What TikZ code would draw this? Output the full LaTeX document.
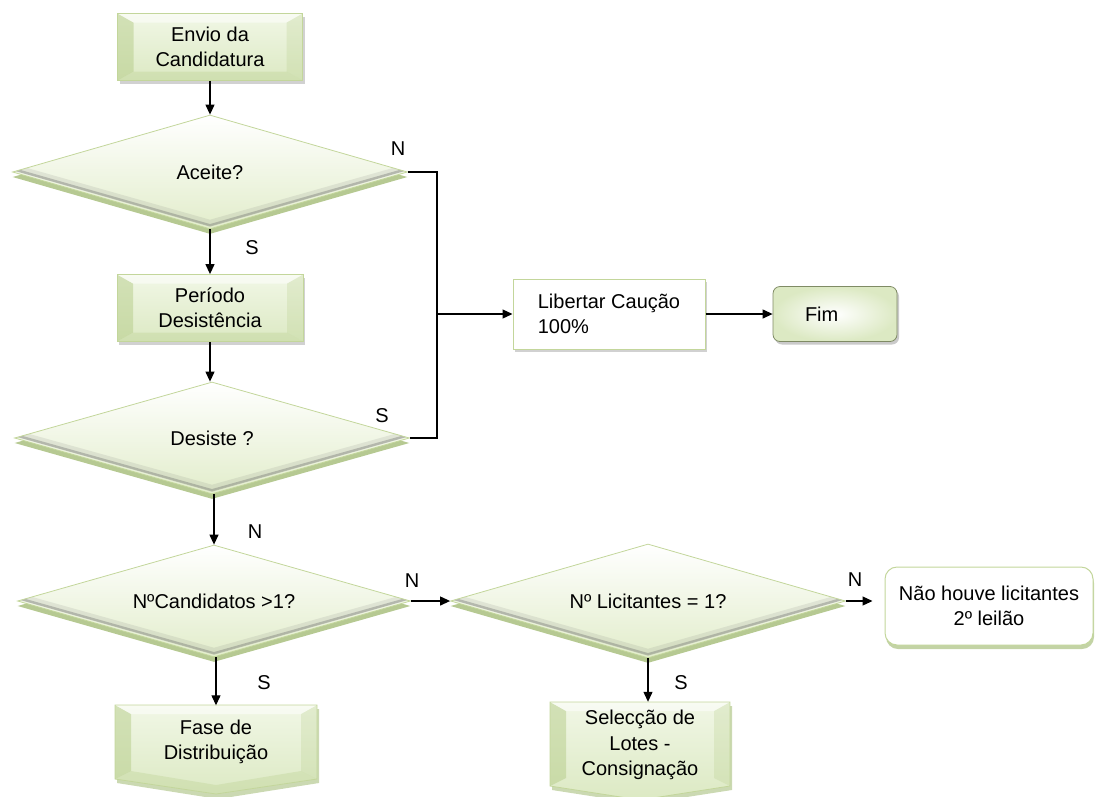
\documentclass[tikz,border=0pt]{standalone}
\usepackage{fontspec}
\setmainfont{Liberation Sans}
\usetikzlibrary{shapes.geometric,shadows,arrows.meta,calc}
\definecolor{gborder}{HTML}{C3D69B}
\definecolor{glight}{HTML}{F1F7E6}
\definecolor{gmid}{HTML}{DCE9C3}
\definecolor{gdark}{HTML}{B5CC88}
\definecolor{gshadow}{HTML}{A9C07F}
\definecolor{dialow}{HTML}{E2EDCB}
\tikzset{
  txt/.style={font=\fontsize{20}{25}\selectfont, align=center, inner sep=0pt, text=black},
  lab/.style={font=\fontsize{20}{24}\selectfont, inner sep=0pt},
  conn/.style={draw=black, line width=1.2pt, -{Triangle[length=10pt,width=9pt]}},
  plainline/.style={draw=black, line width=1.2pt},
  bevelbox/.style={txt, rectangle, draw=gborder, line width=0.8pt,
    top color=glight, bottom color=gmid,
    drop shadow={shadow xshift=2pt, shadow yshift=-3pt, opacity=.3, fill=black!60},
    path picture={
      \fill[gdark, opacity=.5] (path picture bounding box.north west)
        -- ([xshift=16pt,yshift=-9pt]path picture bounding box.north west)
        -- ([xshift=16pt,yshift=9pt]path picture bounding box.south west)
        -- (path picture bounding box.south west) -- cycle;
      \fill[gdark, opacity=.25] (path picture bounding box.north east)
        -- ([xshift=-16pt,yshift=-9pt]path picture bounding box.north east)
        -- ([xshift=-16pt,yshift=9pt]path picture bounding box.south east)
        -- (path picture bounding box.south east) -- cycle;
      \fill[gdark, opacity=.3] (path picture bounding box.south west)
        -- ([xshift=16pt,yshift=9pt]path picture bounding box.south west)
        -- ([xshift=-16pt,yshift=9pt]path picture bounding box.south east)
        -- (path picture bounding box.south east) -- cycle;
      \fill[white, opacity=.5] (path picture bounding box.north west)
        -- ([xshift=16pt,yshift=-9pt]path picture bounding box.north west)
        -- ([xshift=-16pt,yshift=-9pt]path picture bounding box.north east)
        -- (path picture bounding box.north east) -- cycle;
    }},
  dia/.style={txt, diamond, aspect=3.5, draw=gborder, line width=0.8pt,
    top color=white, bottom color=dialow,
    drop shadow={shadow xshift=0pt, shadow yshift=-5pt, opacity=.85, fill=gshadow},
    path picture={
      \draw[black!60, line width=6pt, opacity=.12]
        ([yshift=5pt]path picture bounding box.west)
        -- ([yshift=6pt]path picture bounding box.south)
        -- ([yshift=5pt]path picture bounding box.east);
      \draw[black!60, line width=2.5pt, opacity=.35]
        ([yshift=3pt]path picture bounding box.west)
        -- ([yshift=3.5pt]path picture bounding box.south)
        -- ([yshift=3pt]path picture bounding box.east);
    }},
  plainbox/.style={txt, rectangle, draw=gborder, line width=1pt, fill=white,
    drop shadow={shadow xshift=2pt, shadow yshift=-3pt, opacity=.3, fill=black!60}},
  fimbox/.style={txt, rectangle, rounded corners=7pt, draw=black!35!gborder, line width=0.8pt,
    inner color=white, outer color=gmid,
    drop shadow={shadow xshift=2pt, shadow yshift=-3pt, opacity=.35, fill=black!60}},
  roundbox/.style={txt, rectangle, rounded corners=12pt, draw=gborder, line width=1pt, fill=white,
    drop shadow={shadow xshift=1pt, shadow yshift=-4pt, opacity=.7, fill=gshadow}},
  penttext/.style={txt, rectangle}
}
\begin{document}
\begin{tikzpicture}[x=1pt,y=-1pt]
\useasboundingbox (0,0) rectangle (1095,796);

% pentagon-shaped boxes (drawn directly)
\fill[gshadow, opacity=.6] (117,709) -- (319,709) -- (319,783) -- (218,799) -- (117,783) -- cycle;
\begin{scope}
  \clip (115,705) -- (317,705) -- (317,779) -- (216,794) -- (115,779) -- cycle;
  \shade[top color=glight, bottom color=gmid] (115,705) rectangle (317,796);
  \fill[gdark, opacity=.5] (115,705) -- (131,714) -- (131,771) -- (115,779) -- cycle;
  \fill[gdark, opacity=.25] (317,705) -- (301,714) -- (301,771) -- (317,779) -- cycle;
  \fill[gdark, opacity=.3] (131,771) -- (216,785) -- (301,771) -- (317,779) -- (216,794) -- (115,779) -- cycle;
  \fill[white, opacity=.5] (115,705) -- (131,714) -- (301,714) -- (317,705) -- cycle;
\end{scope}
\draw[gborder, line width=.8pt] (115,705) -- (317,705) -- (317,779) -- (216,794) -- (115,779) -- cycle;

\fill[gshadow, opacity=.6] (552,706) -- (732,706) -- (732,790) -- (642,804) -- (552,790) -- cycle;
\begin{scope}
  \clip (550,702) -- (730,702) -- (730,786) -- (640,800) -- (550,786) -- cycle;
  \shade[top color=glight, bottom color=gmid] (550,702) rectangle (730,800);
  \fill[gdark, opacity=.5] (550,702) -- (566,711) -- (566,778) -- (550,786) -- cycle;
  \fill[gdark, opacity=.25] (730,702) -- (714,711) -- (714,778) -- (730,786) -- cycle;
  \fill[white, opacity=.5] (550,702) -- (566,711) -- (714,711) -- (730,702) -- cycle;
\end{scope}
\draw[gborder, line width=.8pt] (550,702) -- (730,702) -- (730,786) -- (640,800) -- (550,786) -- cycle;

% nodes
\node[bevelbox, minimum width=185pt, minimum height=67pt] (envio) at (210,47) {Envio da\\Candidatura};
\node[dia, minimum width=395pt, minimum height=114pt] (aceite) at (210,172) {Aceite?};
\node[bevelbox, minimum width=186pt, minimum height=67pt] (periodo) at (210,308) {Período\\Desistência};
\node[dia, minimum width=395pt, minimum height=112pt] (desiste) at (212,438) {Desiste ?};
\node[dia, minimum width=393pt, minimum height=112pt] (ncand) at (214,601) {NºCandidatos >1?};
\node[dia, minimum width=395pt, minimum height=114pt] (nlic) at (648,601) {Nº Licitantes = 1?};
\node[roundbox, minimum width=208pt, minimum height=78pt] (naohouve) at (989,606) {Não houve licitantes\\2º leilão};
\node[plainbox, minimum width=192pt, minimum height=70pt, align=left] (libertar) at (609,314) {Libertar Caução\\100\%};
\node[fimbox, text width=60pt, inner xsep=32pt, align=left, minimum height=55pt] (fim) at (835,314) {Fim};
\node[penttext, minimum width=202pt, minimum height=73pt] (fase) at (216,742) {Fase de\\Distribuição};
\node[penttext, minimum width=180pt, minimum height=86pt, font=\fontsize{20}{25.5}\selectfont] (selec) at (640,745) {Selecção de\\Lotes -\\Consignação};
\coordinate (j) at (437,314);

% connectors
\draw[conn] (envio.south) -- (aceite.north);
\draw[plainline] (aceite.east) -| (j);
\draw[plainline] (desiste.east) -| (j);
\draw[conn] (j) -- (libertar.west);
\draw[conn] (libertar.east) -- (fim.west);
\draw[conn] (aceite.south) -- (periodo.north);
\draw[conn] (periodo.south) -- (periodo.south |- desiste.north);
\draw[conn] (ncand.north |- desiste.south) -- (ncand.north);
\draw[conn] (ncand.east) -- (nlic.west);
\draw[conn, shorten >=12pt] (nlic.east) -- (nlic.east -| naohouve.west);
\draw[conn] (nlic.south) -- (nlic.south |- selec.north);
\draw[conn] (fase.north |- ncand.south) -- (fase.north);

% labels
\node[lab] (lN1) at (398,149) {N};
\node[lab] (lS1) at (252,248) {S};
\node[lab] (lS2) at (382,416) {S};
\node[lab] (lN2) at (255,532) {N};
\node[lab] (lN3) at (412,581) {N};
\node[lab] (lN4) at (855,580) {N};
\node[lab] (lS3) at (264,683) {S};
\node[lab] (lS4) at (681,683) {S};
\end{tikzpicture}
\end{document}
